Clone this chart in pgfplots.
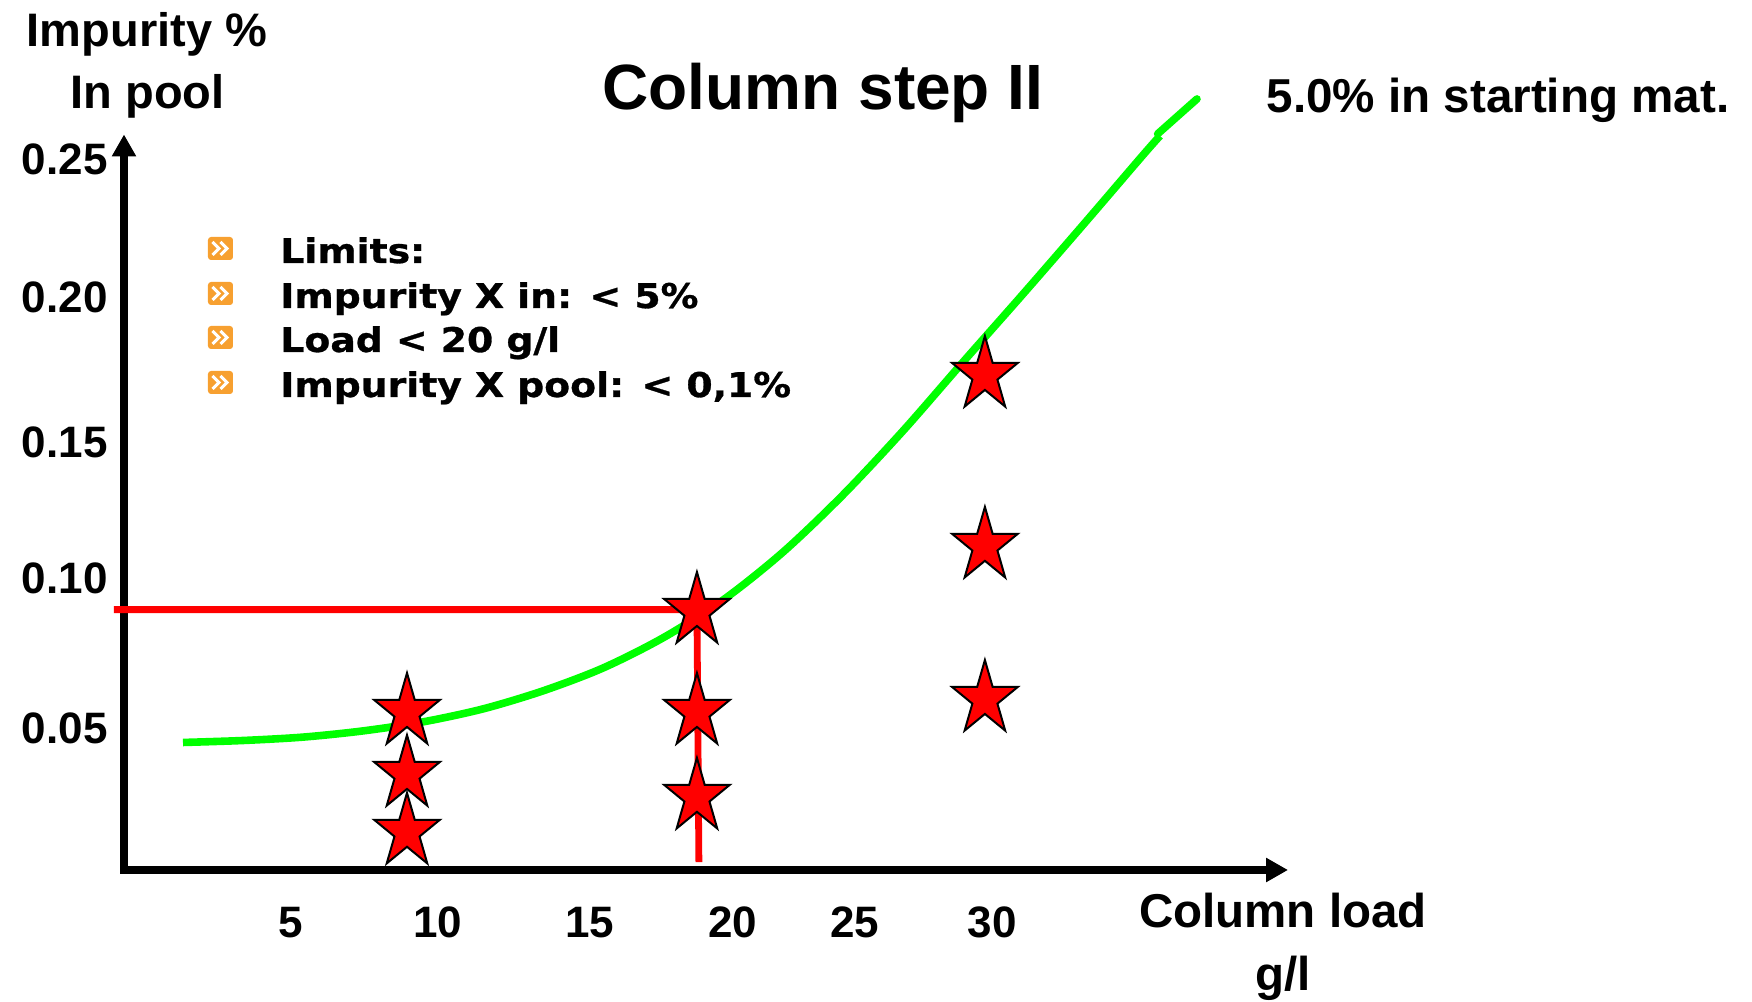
\documentclass[border=0pt]{standalone}
\usepackage{fontspec}
\setmainfont{Liberation Sans}
\newfontfamily\legfont{DejaVu Sans}[FakeStretch=1.11, FakeBold=0.9]
\usepackage{pgfplots}
\pgfplotsset{compat=1.18}
\usetikzlibrary{arrows.meta}
\definecolor{pgreen}{RGB}{0,255,0}
\definecolor{pred}{RGB}{255,0,0}
\definecolor{iconorange}{RGB}{247,160,48}
\pgfdeclareplotmark{pstar}{%
 \pgfpathmoveto{\pgfqpoint{0pt}{19.5pt}}%
 \pgfpathlineto{\pgfqpoint{-3.87pt}{6.03pt}}%
 \pgfpathlineto{\pgfqpoint{-16.41pt}{6.03pt}}%
 \pgfpathlineto{\pgfqpoint{-6.27pt}{-2.30pt}}%
 \pgfpathlineto{\pgfqpoint{-10.14pt}{-15.78pt}}%
 \pgfpathlineto{\pgfqpoint{0pt}{-7.45pt}}%
 \pgfpathlineto{\pgfqpoint{10.14pt}{-15.78pt}}%
 \pgfpathlineto{\pgfqpoint{6.27pt}{-2.30pt}}%
 \pgfpathlineto{\pgfqpoint{16.41pt}{6.03pt}}%
 \pgfpathlineto{\pgfqpoint{3.87pt}{6.03pt}}%
 \pgfpathclose
 \pgfusepathqfillstroke}
\newcommand\icon[1]{%
  \fill[iconorange, rounded corners=1.5pt] (208,{#1-11.5}) rectangle (233,{#1+11.5});
  \draw[white, line width=1.5pt] (212.5,{#1-6.5}) -- (219,#1) -- (212.5,{#1+6.5});
  \draw[white, line width=1.5pt] (220.5,{#1-6.5}) -- (227,#1) -- (220.5,{#1+6.5});}
\begin{document}
\begin{tikzpicture}
\begin{scope}[x=0.5pt,y=-0.5pt,shift={(-62pt,435pt)}]
\useasboundingbox (0,0) rectangle (1752,1001);
\end{scope}
\begin{axis}[at={(0pt,0pt)}, anchor=south west,
  x=14.02pt, y=1410pt,
  xmin=-0.963, xmax=40.55, ymin=-0.00142, ymax=0.2594,
  axis lines=left,
  axis line style={line width=4pt, line cap=rect, -{Triangle[length=11pt,width=11.5pt]}},
  clip=false,
  xtick={4.993,10.235,15.656,20.756,25.107,29.993},
  xticklabels={5,10,15,20,25,30},
  ytick={0.0489,0.1021,0.1504,0.2018,0.2507},
  yticklabels={0.05,0.10,0.15,0.20,0.25},
  major tick length=0pt, tick style={draw=none},
  xticklabel style={anchor=base, inner sep=0pt, yshift=-34pt},
  yticklabel style={anchor=east, inner sep=0pt, xshift=-8pt},
  ticklabel style={font=\fontsize{22}{26}\selectfont\bfseries},
  /pgf/number format/assume math mode=true]
\addplot[only marks, mark=pstar, mark options={fill=pred, draw=black, line width=1pt}]
  coordinates {(9.13,0.0546)(9.13,0.0326)(9.13,0.0121)
               (19.47,0.0904)(19.47,0.0546)(19.47,0.0245)
               (29.74,0.1741)(29.74,0.1135)(29.74,0.0592)};
\addplot[pred, line width=3.4pt, mark=none] coordinates {(-1.32,0.0909)(19.47,0.0909)(19.54,0.0014)};
\addplot[pgreen, line width=3.8pt, smooth, mark=none] coordinates {
 (1.141,0.0438)(3.281,0.0445)(5.421,0.0457)(7.561,0.0479)(9.700,0.0511)
 (11.840,0.0557)(13.980,0.0621)(16.120,0.0702)(18.260,0.0809)(20.399,0.0943)
 (22.539,0.1113)(24.679,0.1316)(26.819,0.1543)(28.959,0.1787)(31.098,0.2028)
 (33.238,0.2273)(35.378,0.2521)(35.984,0.2589)};
\addplot[pgreen, line width=3.8pt, line cap=round, mark=none] coordinates {(35.900,0.2596)(37.304,0.2720)};
\end{axis}
\begin{scope}[x=0.5pt,y=-0.5pt,shift={(-62pt,435pt)}]
\node[anchor=base, inner sep=0pt, font=\fontsize{32}{38}\selectfont\bfseries] at (823,110) {Column step II};
\node[anchor=base, inner sep=0pt, font=\fontsize{23.8}{28}\selectfont\bfseries] at (1498,113) {5.0\% in starting mat.};
\node[anchor=base, inner sep=0pt, font=\fontsize{23.5}{28}\selectfont\bfseries] at (147,47) {Impurity \%};
\node[anchor=base, inner sep=0pt, font=\fontsize{23.5}{28}\selectfont\bfseries] at (147.5,109) {In pool};
\node[anchor=base, inner sep=0pt, font=\fontsize{23.75}{28}\selectfont\bfseries] at (1283,928) {Column load};
\node[anchor=base, inner sep=0pt, font=\fontsize{23.75}{28}\selectfont\bfseries] at (1283,991) {g/l};
\icon{248.5}\icon{293.5}\icon{337.5}\icon{382.5}
\node[anchor=base west, inner sep=0pt, font=\legfont\fontsize{17}{20}\selectfont\bfseries] at (280,263) {Limits:};
\node[anchor=base west, inner sep=0pt, font=\legfont\fontsize{17}{20}\selectfont\bfseries] at (280,308) {Impurity X in: < 5\%};
\node[anchor=base west, inner sep=0pt, font=\legfont\fontsize{17}{20}\selectfont\bfseries] at (280,352) {Load < 20 g/l};
\node[anchor=base west, inner sep=0pt, font=\legfont\fontsize{17}{20}\selectfont\bfseries] at (280,397) {Impurity X pool: < 0,1\%};
\end{scope}
\end{tikzpicture}
\end{document}
